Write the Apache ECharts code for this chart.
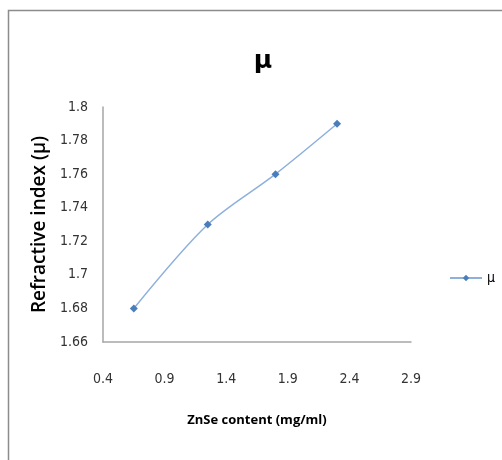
<!DOCTYPE html>
<html>
<head>
<meta charset="utf-8">
<script src="https://cdn.jsdelivr.net/npm/echarts@6/dist/echarts.min.js"></script>
<style>
  html, body {margin: 0; padding: 0; background: #fff;}
  #main {width: 502px; height: 460px;}
</style>
</head>
<body>
<div id="main"></div>
<script>
// ZnSe content (mg/ml) vs refractive index
const znse = [0.65, 1.25, 1.8, 2.3];
const mu = [1.68, 1.73, 1.76, 1.79];
const seriesName = 'μ';

const font = '"DejaVu Sans Condensed", sans-serif';
const nameFont = '"Open Sans", sans-serif';
const chart = echarts.init(document.getElementById('main'));
chart.setOption({
  animation: false,
  graphic: [{
    type: 'rect',
    shape: {x: 8.5, y: 10.5, width: 600, height: 600},
    style: {fill: '#fff', stroke: '#8c8c8c', lineWidth: 1.5},
    z: -10
  }],
  title: {
    text: 'μ',
    left: 258,
    top: 44,
    textAlign: 'center',
    textStyle: {fontFamily: 'DejaVu Sans', fontSize: 25, fontWeight: 'bold', color: '#000'}
  },
  legend: {
    data: [seriesName],
    left: 444,
    top: 266,
    itemWidth: 32,
    itemHeight: 8,
    itemGap: 4,
    textStyle: {fontFamily: font, fontSize: 14, color: '#000'}
  },
  grid: {left: 103, right: 91, top: 107, bottom: 118},
  xAxis: {
    type: 'value',
    min: 0.4,
    max: 2.9,
    interval: 0.5,
    name: 'ZnSe content (mg/ml)',
    nameLocation: 'middle',
    nameGap: 72,
    nameTextStyle: {fontFamily: nameFont, fontSize: 13, fontWeight: 'bold', color: '#000'},
    axisLine: {lineStyle: {color: '#a6a6a6', width: 1.5}},
    axisTick: {show: false},
    splitLine: {show: false},
    axisLabel: {margin: 30, fontFamily: font, fontSize: 14, color: '#333',
      formatter: v => v.toFixed(1)}
  },
  yAxis: {
    type: 'value',
    min: 1.66,
    max: 1.8,
    interval: 0.02,
    name: 'Refractive index (μ)',
    nameLocation: 'middle',
    nameGap: 50,
    nameTextStyle: {fontFamily: nameFont, fontSize: 19, fontWeight: 600, color: '#000'},
    axisLine: {show: true, lineStyle: {color: '#a6a6a6', width: 1.5}},
    axisTick: {show: false},
    splitLine: {show: false},
    axisLabel: {margin: 15, fontFamily: font, fontSize: 14, color: '#333',
      formatter: v => String(+v.toFixed(2))}
  },
  series: [{
    name: seriesName,
    type: 'line',
    smooth: 0.3,
    data: znse.map((x, i) => [x, mu[i]]),
    symbol: 'diamond',
    symbolSize: 8,
    lineStyle: {color: '#8eb0dc', width: 1.5},
    itemStyle: {color: '#4a7ebb'}
  }]
});
</script>
</body>
</html>
